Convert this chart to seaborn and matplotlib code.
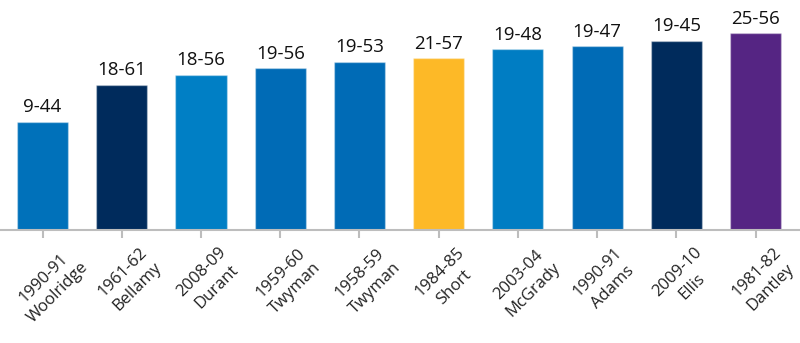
import matplotlib
matplotlib.use("Agg")
import matplotlib.pyplot as plt
import matplotlib.transforms as mtransforms
import seaborn as sns
import pandas as pd

seasons = ["1990-91", "1961-62", "2008-09", "1959-60", "1958-59",
           "1984-85", "2003-04", "1990-91", "2009-10", "1981-82"]
players = ["Woolridge", "Bellamy", "Durant", "Twyman", "Twyman",
           "Short", "McGrady", "Adams", "Ellis", "Dantley"]
wins = [9, 18, 18, 19, 19, 21, 19, 19, 19, 25]
losses = [44, 61, 56, 56, 53, 57, 48, 47, 45, 56]
colors = ["#0071BA", "#002B5C", "#007FC5", "#006BB6", "#006BB6",
          "#FDB927", "#007DC3", "#006BB6", "#002B5C", "#552583"]

labels = [f"{s}\n{p}" for s, p in zip(seasons, players)]
df = pd.DataFrame({
    "label": labels,
    "pct": [w / (w + l) for w, l in zip(wins, losses)],
    "record": [f"{w}-{l}" for w, l in zip(wins, losses)],
})

sns.set_theme(style="white")
plt.rcParams["font.family"] = ["Open Sans", "DejaVu Sans"]

fig = plt.figure(figsize=(8, 3.43), dpi=100)
ax = fig.add_axes([0, 113 / 343, 1, 230 / 343])

sns.barplot(data=df, x="label", y="pct", hue="label", palette=colors,
            legend=False, width=0.645, saturation=1, ax=ax,
            edgecolor=(1, 1, 1, 0.35), linewidth=1)

for container, rec in zip(ax.containers, df["record"]):
    ax.bar_label(container, labels=[rec], padding=4, fontsize=13.5,
                 color="#111111")

ax.set_xlim(-0.537, 9.56)
ax.set_ylim(0, 0.3605)
ax.set_xlabel("")
ax.set_ylabel("")
ax.set_yticks([])
for side in ["top", "left", "right"]:
    ax.spines[side].set_visible(False)
ax.spines["bottom"].set_color("#BDBDBD")
ax.spines["bottom"].set_linewidth(1.5)

ax.tick_params(axis="x", bottom=True, length=5.5, width=1.5,
               color="#BDBDBD", pad=5, labelsize=12, labelcolor="#222222")
shift = mtransforms.ScaledTranslation(8 / 100, 0, fig.dpi_scale_trans)
for lbl in ax.get_xticklabels():
    lbl.set_rotation(45)
    lbl.set_ha("center")
    lbl.set_multialignment("center")
    lbl.set_linespacing(1.4)
    lbl.set_transform(lbl.get_transform() + shift)

fig.savefig("out.png", dpi=100, facecolor="white")
